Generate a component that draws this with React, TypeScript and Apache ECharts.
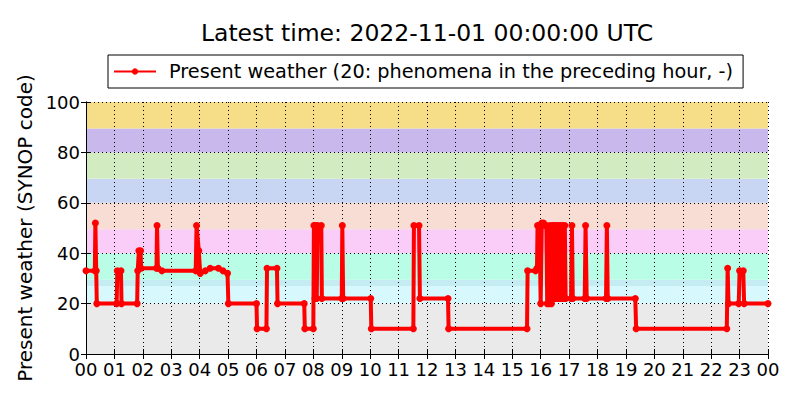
import { useEffect, useRef } from 'react';
import * as echarts from 'echarts';

const titleText = 'Latest time: 2022-11-01 00:00:00 UTC';
const seriesName = 'Present weather (20: phenomena in the preceding hour, -)';
const yAxisName = 'Present weather (SYNOP code)';

const hourLabels = [
  '00', '01', '02', '03', '04', '05', '06', '07', '08', '09', '10', '11',
  '12', '13', '14', '15', '16', '17', '18', '19', '20', '21', '22', '23', '00',
];

// observation times (hours since 00 UTC) and SYNOP present weather codes
const obsHours = [
  0.0, 0.31, 0.33, 0.36, 0.38, 1.08, 1.1, 1.23, 1.25, 1.8, 1.82, 1.86, 1.92, 1.94,
  2.48, 2.5, 2.53, 2.67, 3.86, 3.89, 3.97, 4.02, 4.2, 4.37, 4.66, 4.82, 4.98, 5.01,
  6.0, 6.02, 6.35, 6.37, 6.72, 6.74, 7.68, 7.7, 8.0, 8.02, 8.06, 8.08, 8.12, 8.15,
  8.28, 8.3, 9.0, 9.02, 9.05, 10.02, 10.04, 11.52, 11.54, 11.72, 11.75, 12.74, 12.76,
  15.52, 15.54, 15.82, 15.87, 15.89, 15.96, 16.0, 16.04, 16.1, 16.15, 16.2, 16.23,
  16.3, 16.33, 16.38, 16.42, 16.45, 16.48, 16.52, 16.55, 16.58, 16.62, 16.65, 16.7,
  16.73, 16.78, 16.82, 16.85, 16.88, 17.07, 17.1, 17.13, 17.55, 17.58, 17.62, 18.3,
  18.33, 18.36, 19.33, 19.36, 22.55, 22.58, 22.61, 22.97, 23.0, 23.13, 23.16, 24.0,
];
const obsValues = [
  33, 33, 52, 33, 20, 20, 33, 33, 20, 20, 33, 41, 41, 34,
  34, 51, 34, 33, 33, 51, 41, 32, 33, 34, 34, 33, 32, 20,
  20, 10, 10, 34, 34, 20, 20, 10, 10, 51, 22, 51, 22, 51,
  51, 22, 22, 51, 22, 22, 10, 10, 51, 51, 22, 22, 10,
  10, 33, 33, 34, 51, 51, 20, 52, 52, 51, 51, 20,
  20, 51, 20, 51, 22, 51, 22, 51, 22, 51, 22, 51,
  22, 51, 22, 51, 22, 22, 51, 22, 22, 51, 22, 22,
  51, 22, 22, 10, 10, 34, 20, 20, 33, 33, 20, 20,
];

// background code ranges
const bandLower = [0, 20, 27, 29.5, 40, 49.5, 60, 69.5, 80, 89.5];
const bandUpper = [20, 27, 29.5, 40, 49.5, 60, 69.5, 80, 89.5, 100];
const bandColors = [
  '#eaeaea', '#d7f9fd', '#c4ecf2', '#b9fde6', '#facdf9',
  '#f7ddd4', '#c8d6f4', '#d3ebc1', '#c8b8ec', '#f6de89',
];

const font = 'DejaVu Sans';

export default function App() {
  const chartRef = useRef<HTMLDivElement>(null);

  useEffect(() => {
    if (!chartRef.current) return;
    const chart = echarts.init(chartRef.current, undefined, { renderer: 'svg' });

    const axisLine = { show: true, lineStyle: { color: '#000', width: 1 } };
    const tick = { show: true, inside: true, length: 5, lineStyle: { color: '#000' } };
    const grid = { show: true, lineStyle: { color: '#000', width: 1, type: [1, 3] as number[] } };

    const option: echarts.EChartsOption = {
      animation: false,
      backgroundColor: '#fff',
      textStyle: { fontFamily: font },
      title: {
        text: titleText,
        left: 427,
        top: 21,
        padding: 0,
        textAlign: 'center',
        textStyle: { fontFamily: font, fontSize: 23.5, fontWeight: 'normal', color: '#000' },
      },
      legend: {
        left: 108,
        top: 55,
        padding: [7, 10, 7, 5],
        borderColor: '#000',
        borderWidth: 1,
        itemWidth: 42,
        itemHeight: 8,
        textStyle: { fontFamily: font, fontSize: 19.3, color: '#000', padding: [0, 0, 0, 8] },
        data: [seriesName],
      },
      grid: { left: 86, right: 32, top: 102, bottom: 46 },
      xAxis: [
        {
          type: 'value',
          min: 0,
          max: 24,
          interval: 1,
          z: 2,
          axisLine,
          axisTick: tick,
          splitLine: grid,
          axisLabel: {
            margin: 6,
            fontFamily: font,
            fontSize: 18,
            color: '#000',
            formatter: (v: number) => hourLabels[Math.round(v)] ?? '',
          },
        },
        {
          type: 'value',
          position: 'top',
          min: 0,
          max: 24,
          interval: 1,
          z: 2,
          axisLine,
          axisTick: tick,
          splitLine: { show: false },
          axisLabel: { show: false },
        },
      ],
      yAxis: [
        {
          type: 'value',
          min: 0,
          max: 100,
          interval: 20,
          z: 2,
          name: yAxisName,
          nameLocation: 'middle',
          nameGap: 48,
          nameTextStyle: { fontFamily: font, fontSize: 20, color: '#000' },
          axisLine,
          axisTick: tick,
          splitLine: grid,
          axisLabel: { margin: 6, fontFamily: font, fontSize: 18, color: '#000' },
        },
        {
          type: 'value',
          position: 'right',
          min: 0,
          max: 100,
          interval: 20,
          z: 2,
          axisLine,
          axisTick: tick,
          splitLine: { show: false },
          axisLabel: { show: false },
        },
      ],
      series: [
        {
          type: 'custom',
          z: 1,
          silent: true,
          data: bandLower.map((lo, i) => [0, lo, bandUpper[i], i]),
          renderItem: (params: any, api: any) => {
            const i = api.value(3);
            const tl = api.coord([0, api.value(2)]);
            const br = api.coord([24, api.value(1)]);
            return {
              type: 'rect',
              shape: { x: tl[0], y: tl[1], width: br[0] - tl[0], height: br[1] - tl[1] },
              style: { fill: bandColors[i] },
            };
          },
        },
        {
          name: seriesName,
          type: 'line',
          z: 3,
          data: obsHours.map((h, i) => [h, obsValues[i]]),
          symbol: 'circle',
          symbolSize: 7,
          showSymbol: true,
          lineStyle: { color: '#ff0000', width: 4 },
          itemStyle: { color: '#ff0000' },
        },
      ],
    };

    chart.setOption(option);
    return () => {
      chart.dispose();
    };
  }, []);

  return (
    <div
      ref={chartRef}
      style={{ position: 'fixed', left: 0, top: 0, width: 800, height: 400 }}
    />
  );
}
